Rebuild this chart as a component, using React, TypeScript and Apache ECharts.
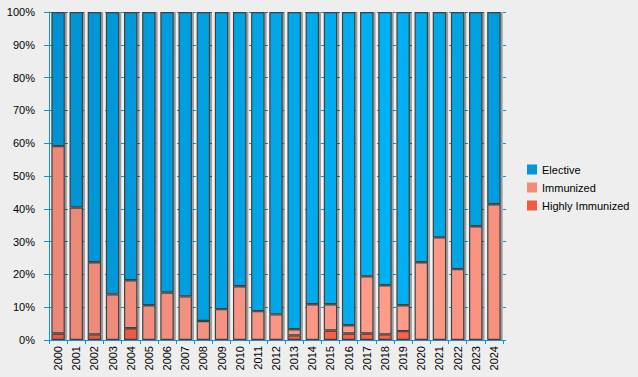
import React, { useEffect, useRef } from "react";
import * as echarts from "echarts";

const years = ["2000","2001","2002","2003","2004","2005","2006","2007","2008","2009","2010","2011","2012","2013","2014","2015","2016","2017","2018","2019","2020","2021","2022","2023","2024"];
const highlyImmunized = [2.0, 0, 1.7, 0, 3.6, 0, 0, 0, 0, 0, 0, 0, 0, 1.4, 0, 2.9, 2.0, 2.0, 1.7, 2.7, 0, 0, 0, 0, 0];
const immunized = [57.1, 40.4, 22.0, 13.9, 14.6, 10.6, 14.5, 13.3, 5.8, 9.4, 16.4, 8.8, 7.8, 1.9, 10.9, 8.0, 2.5, 17.4, 15.0, 7.9, 23.7, 31.3, 21.6, 34.7, 41.4];
const elective = [40.9, 59.6, 76.3, 86.1, 81.8, 89.4, 85.5, 86.7, 94.2, 90.6, 83.6, 91.2, 92.2, 96.7, 89.1, 89.1, 95.5, 80.6, 83.3, 89.4, 76.3, 68.7, 78.4, 65.3, 58.6];
const yTicks = [0, 10, 20, 30, 40, 50, 60, 70, 80, 90, 100];

const PLOT_L = 49;
const PLOT_R = 503;

function hGrad(c0: string, c1: string, c2: string) {
  return new echarts.graphic.LinearGradient(
    PLOT_L, 0, PLOT_R, 0,
    [
      { offset: 0, color: c0 },
      { offset: 0.75, color: c1 },
      { offset: 1, color: c2 },
    ],
    true
  );
}

export default function App() {
  const ref = useRef<HTMLDivElement>(null);
  useEffect(() => {
    if (!ref.current) return;
    const chart = echarts.init(ref.current, undefined, { renderer: "svg" });
    const font = "'Liberation Sans', Arial, sans-serif";
    const barStyle = {
      borderColor: "#404040",
      borderWidth: 1.2,
      shadowColor: "rgba(0,0,0,0.35)",
      shadowOffsetX: 2,
      shadowOffsetY: 0,
      shadowBlur: 1,
    };
    chart.setOption({
      animation: false,
      backgroundColor: "#eeeeee",
      textStyle: { fontFamily: font },
      grid: {
        left: PLOT_L,
        right: 638 - PLOT_R,
        top: 12,
        bottom: 37,
        show: true,
        borderWidth: 0,
        backgroundColor: new echarts.graphic.RadialGradient(0.55, 0.5, 0.7, [
          { offset: 0, color: "#f8f8f8" },
          { offset: 1, color: "#ededed" },
        ]),
      },
      legend: {
        orient: "vertical",
        left: 522,
        top: 159,
        itemWidth: 10,
        itemHeight: 10,
        itemGap: 7,
        icon: "rect",
        textStyle: { fontSize: 11, color: "#000", fontFamily: font },
        data: [
          { name: "Elective", itemStyle: { color: "#0096d8", borderWidth: 0, shadowBlur: 0, shadowOffsetX: 0 } },
          { name: "Immunized", itemStyle: { color: "#f48a7a", borderWidth: 0, shadowBlur: 0, shadowOffsetX: 0 } },
          { name: "Highly Immunized", itemStyle: { color: "#f15a40", borderWidth: 0, shadowBlur: 0, shadowOffsetX: 0 } },
        ],
      },
      xAxis: {
        type: "category",
        data: years,
        axisLine: { show: true, lineStyle: { color: "#0a96d6", width: 1 } },
        axisTick: { show: true, length: 4, alignWithLabel: false, lineStyle: { color: "#0a96d6" } },
        axisLabel: { rotate: 90, fontSize: 11, color: "#000", margin: 6, fontFamily: font },
        splitLine: { show: false },
      },
      yAxis: [
        {
          type: "value",
          min: 0,
          max: 100,
          interval: 10,
          axisLine: { show: true, lineStyle: { color: "#0a96d6", width: 1 } },
          axisTick: { show: true, length: 5, lineStyle: { color: "#0a96d6" } },
          axisLabel: {
            fontSize: 11,
            color: "#000",
            margin: 14,
            fontFamily: font,
            formatter: (v: number) => (yTicks.includes(v) ? v + "%" : ""),
          },
          splitLine: { show: true, lineStyle: { color: "#0a96d6", type: [3, 5], width: 1 } },
        },
        {
          type: "value",
          position: "right",
          min: 0,
          max: 100,
          interval: 10,
          axisLine: { show: false },
          axisTick: { show: true, length: 3, lineStyle: { color: "#0a96d6" } },
          axisLabel: { show: false },
          splitLine: { show: false },
        },
      ],
      series: [
        {
          name: "Highly Immunized",
          type: "bar",
          stack: "total",
          barWidth: "74%",
          data: highlyImmunized,
          itemStyle: { ...barStyle, color: hGrad("#e85842", "#ff6248", "#f65c44") },
        },
        {
          name: "Immunized",
          type: "bar",
          stack: "total",
          data: immunized,
          itemStyle: { ...barStyle, color: hGrad("#ec8878", "#ff9c8a", "#f8907e") },
        },
        {
          name: "Elective",
          type: "bar",
          stack: "total",
          data: elective,
          itemStyle: { ...barStyle, color: hGrad("#0092d2", "#00b2f4", "#009cdc") },
        },
      ],
    });
    return () => chart.dispose();
  }, []);
  return (
    <div
      ref={ref}
      style={{ position: "fixed", left: 0, top: 0, width: 638, height: 377 }}
    />
  );
}
